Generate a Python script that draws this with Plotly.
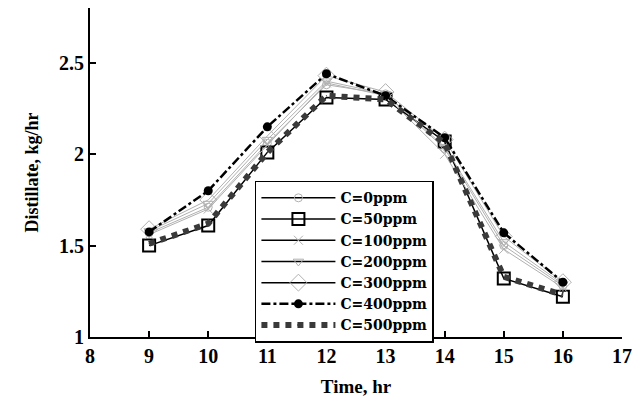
import plotly.graph_objects as go

hours = [9, 10, 11, 12, 13, 14, 15, 16]

c0 = [1.57, 1.71, 2.06, 2.38, 2.33, 2.03, 1.50, 1.28]
c50 = [1.50, 1.61, 2.01, 2.31, 2.30, 2.07, 1.32, 1.22]
c100 = [1.56, 1.70, 2.05, 2.39, 2.32, 2.00, 1.48, 1.27]
c200 = [1.58, 1.73, 2.08, 2.40, 2.33, 2.04, 1.52, 1.29]
c300 = [1.59, 1.75, 2.10, 2.43, 2.34, 2.08, 1.55, 1.30]
c400 = [1.575, 1.80, 2.15, 2.44, 2.32, 2.09, 1.57, 1.30]
c500 = [1.51, 1.62, 2.01, 2.32, 2.30, 2.06, 1.33, 1.23]

x_ticks = [8, 9, 10, 11, 12, 13, 14, 15, 16, 17]
y_ticks = [1, 1.5, 2, 2.5]

FONT = "Liberation Serif"
LEG_FONT = "DejaVu Serif"
GRAY = "#b0b0b0"

# (name, values, plotted line, legend line, marker)
series = [
    ("C=0ppm", c0, dict(color=GRAY, width=1), dict(color="black", width=1.5),
     dict(symbol="circle-open", size=8, color=GRAY, line=dict(width=1, color=GRAY))),
    ("C=50ppm", c50, dict(color="black", width=1.5), dict(color="black", width=1.5),
     dict(symbol="square-open", size=12, color="black", line=dict(width=2, color="black"))),
    ("C=100ppm", c100, dict(color=GRAY, width=1), dict(color="black", width=1.5),
     dict(symbol="x-thin-open", size=9, color=GRAY, line=dict(width=1, color=GRAY))),
    ("C=200ppm", c200, dict(color=GRAY, width=1), dict(color="black", width=1.5),
     dict(symbol="triangle-down-open", size=9, color=GRAY, line=dict(width=1, color=GRAY))),
    ("C=300ppm", c300, dict(color=GRAY, width=1), dict(color="black", width=1.5),
     dict(symbol="diamond-open", size=13, color=GRAY, line=dict(width=1, color=GRAY))),
    ("C=400ppm", c400, dict(color="black", width=2.5, dash="dashdot"), dict(color="black", width=2.5, dash="dashdot"),
     dict(symbol="circle", size=9, color="black")),
    ("C=500ppm", c500, dict(color="#3a3a3a", width=6, dash="dot"), dict(color="#3a3a3a", width=6, dash="dot"),
     dict(symbol="square", size=1, color="#3a3a3a")),
]

fig = go.Figure()
for name, vals, line, _, marker in series:
    fig.add_trace(go.Scatter(x=hours, y=vals, name=name, mode="lines+markers",
                             line=line, marker=marker, showlegend=False))

# legend entries: solid black sample lines with each series' marker
for name, _, _, leg_line, marker in series:
    fig.add_trace(go.Scatter(x=[None], y=[None], name=name, mode="lines+markers",
                             line=leg_line, marker=marker, showlegend=True))

fig.update_layout(
    width=640, height=398,
    margin=dict(l=90, r=18, t=8, b=61),
    paper_bgcolor="white", plot_bgcolor="white",
    font=dict(family=FONT, color="black"),
    showlegend=True,
    legend=dict(
        x=0.31, y=0.475, xanchor="left", yanchor="top",
        bgcolor="white", bordercolor="black", borderwidth=1.5,
        font=dict(family=LEG_FONT, size=14, color="black", weight="bold"),
        itemwidth=74, tracegroupgap=0,
    ),
    xaxis=dict(
        range=[8, 17], tickvals=x_ticks, ticktext=[str(v) for v in x_ticks],
        automargin=False,
        showgrid=False, zeroline=False, showline=True, linecolor="black", linewidth=2,
        ticks="inside", ticklen=6, tickwidth=1.5, tickcolor="black",
        tickfont=dict(family=FONT, size=20, color="black", weight="bold"),
        title=dict(text="Time, hr", font=dict(family=FONT, size=19, color="black", weight="bold"), standoff=14),
    ),
    yaxis=dict(
        range=[1, 2.8], tickvals=y_ticks, ticktext=["1", "1.5", "2", "2.5"],
        automargin=False,
        showgrid=False, zeroline=False, showline=True, linecolor="black", linewidth=2,
        ticks="inside", ticklen=6, tickwidth=1.5, tickcolor="black",
        tickfont=dict(family=FONT, size=20, color="black", weight="bold"),
        title=dict(text="Distillate, kg/hr", font=dict(family=FONT, size=18, color="black", weight="bold"), standoff=16),
    ),
)

fig.write_html("out.html")
